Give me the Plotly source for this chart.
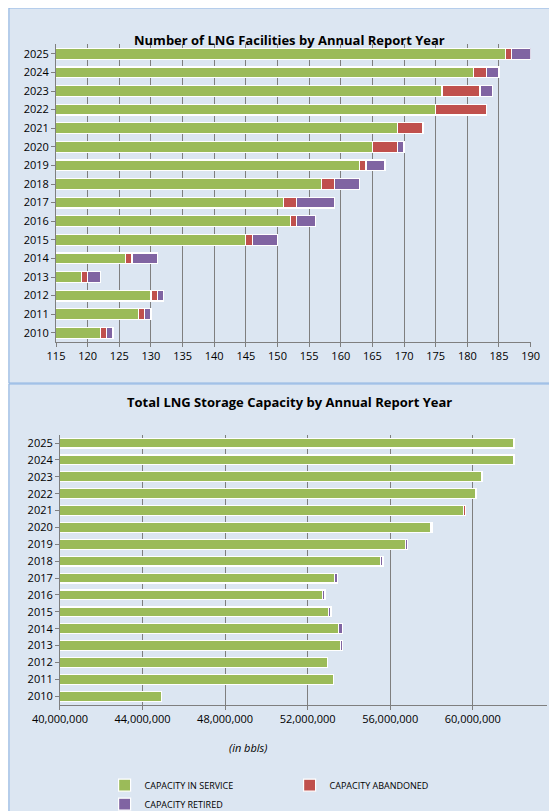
import plotly.graph_objects as go
from plotly.subplots import make_subplots

years = [str(y) for y in range(2010, 2026)]

# number of facilities
fac_service = [122, 128, 130, 119, 126, 145, 152, 151, 157, 163, 165, 169, 175, 176, 181, 186]
fac_abandoned = [1, 1, 1, 1, 1, 1, 1, 2, 2, 1, 4, 4, 8, 6, 2, 1]
fac_retired = [1, 1, 1, 2, 4, 4, 3, 6, 4, 3, 1, 0, 0, 2, 2, 3]

# storage capacity (bbls)
cap_service = [44920000, 53260000, 52950000, 53580000, 53480000, 53000000, 52710000, 53310000,
               55520000, 56740000, 57980000, 59550000, 60160000, 60450000, 62000000, 62000000]
cap_abandoned = [0, 0, 0, 0, 0, 0, 0, 0, 0, 0, 0, 80000, 0, 0, 0, 0]
cap_retired = [0, 0, 0, 100000, 220000, 130000, 130000, 130000, 130000, 80000, 80000, 0, 0, 0, 0, 0]

GREEN, RED, PURPLE = "#9bbb59", "#c0504d", "#8064a2"
names = ["CAPACITY IN SERVICE", "CAPACITY ABANDONED", "CAPACITY RETIRED"]
colors = [GREEN, RED, PURPLE]

fig = make_subplots(rows=2, cols=1)

for vals, name, col in zip([fac_service, fac_abandoned, fac_retired], names, colors):
    fig.add_trace(go.Bar(y=years, x=vals, orientation="h", name=name, marker_color=col,
                         marker_line=dict(color="white", width=1.2), showlegend=True,
                         legendgroup=name), row=1, col=1)
for vals, name, col in zip([cap_service, cap_abandoned, cap_retired], names, colors):
    fig.add_trace(go.Bar(y=years, x=vals, orientation="h", name=name, marker_color=col,
                         marker_line=dict(color="white", width=1.2), showlegend=False,
                         legendgroup=name), row=2, col=1)

axis_font = dict(family="Open Sans", size=11, color="#000")
fig.update_layout(
    width=557, height=811, barmode="stack", bargap=0.42,
    margin=dict(l=48, r=12, t=0, b=0),
    paper_bgcolor="#dce6f2", plot_bgcolor="#dce6f2",
    font=axis_font,
    xaxis=dict(domain=[0.0, 0.955], range=[115, 190], dtick=5, gridcolor="#7f7f7f",
               showline=True, linecolor="#7f7f7f", ticks="outside", ticklen=4,
               tickcolor="#7f7f7f", zeroline=False),
    yaxis=dict(domain=[0.588, 0.955], showline=True, linecolor="#7f7f7f",
               ticks="outside", ticklen=4, tickcolor="#7f7f7f"),
    xaxis2=dict(domain=[0.008, 0.988], range=[40000000, 63600000],
                tickvals=[40e6, 44e6, 48e6, 52e6, 56e6, 60e6],
                ticktext=["40,000,000", "44,000,000", "48,000,000", "52,000,000",
                          "56,000,000", "60,000,000"],
                gridcolor="#7f7f7f", showline=True, linecolor="#7f7f7f",
                ticks="outside", ticklen=4, tickcolor="#7f7f7f", zeroline=False),
    yaxis2=dict(domain=[0.141, 0.474], showline=True, linecolor="#7f7f7f",
                ticks="outside", ticklen=4, tickcolor="#7f7f7f"),
    legend=dict(orientation="h", x=0.47, xanchor="center", y=0.03, yanchor="middle",
                font=dict(family="Open Sans", size=9), traceorder="normal",
                itemwidth=30, entrywidth=140),
)

fig.add_annotation(text="<b>Number of LNG Facilities by Annual Report Year</b>", xref="paper",
                   yref="paper", x=0.47, y=1 - 21 / 811, showarrow=False,
                   font=dict(family="Open Sans", size=13))
fig.add_annotation(text="<b>Total LNG Storage Capacity by Annual Report Year</b>", xref="paper",
                   yref="paper", x=0.47, y=1 - 394 / 811, showarrow=False,
                   font=dict(family="Open Sans", size=13))
fig.add_annotation(text="<i>(in bbls)</i>", xref="paper", yref="paper", x=(240 - 48) / 497,
                   y=1 - 749 / 811, showarrow=False, font=dict(family="Open Sans", size=11))

# panel borders
for y0, y1 in [(0, 375), (376, 810)]:
    fig.add_shape(type="rect", xref="paper", yref="paper",
                  x0=(1 - 48) / 497, x1=(556 - 48) / 497,
                  y0=1 - y1 / 811, y1=1 - y0 / 811, line=dict(color="#8eb4e3", width=1))

fig.write_html("out.html")
